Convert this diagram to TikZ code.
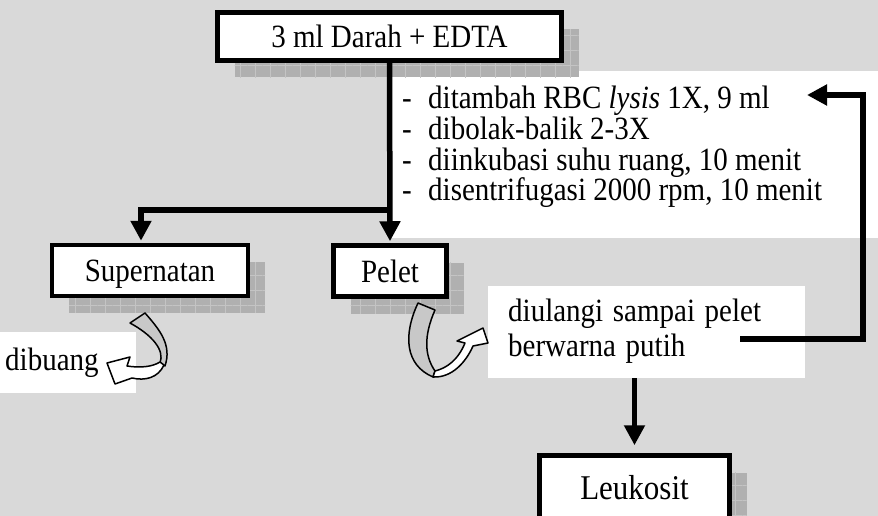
\documentclass[tikz,border=0pt]{standalone}
\usepackage{fontspec}
\usepackage{graphicx}
\setmainfont{Liberation Serif}
\usetikzlibrary{arrows.meta,shadows,patterns.meta,positioning}
\definecolor{bggray}{RGB}{217,217,217}
\definecolor{ribbongray}{RGB}{200,200,200}
\definecolor{shadegray}{RGB}{176,176,176}
\definecolor{gridgray}{RGB}{196,196,196}
\newcommand\tallText[1]{\scalebox{1}[1.12]{#1}}

\tikzset{
  box/.style={draw, line width=4.5pt, fill=white, inner sep=0pt,
    text height=22pt, text depth=0pt,
    font=\fontsize{29}{35}\selectfont,
    drop shadow={shadow xshift=17pt, shadow yshift=-17pt, opacity=1, fill=shadegray,
      postaction={pattern={Hatch[angle=0,distance=15pt,line width=1pt]}, pattern color=gridgray}}},
  textbox/.style={fill=white, inner ysep=0pt, align=left,
    font=\fontsize{29}{31.25}\selectfont},
  flow/.style={line width=5.5pt, -{Triangle[length=20pt,width=20pt]}, shorten >=2pt},
  ribbon/.style={draw, line width=1.5pt, line join=round}
}

\begin{document}
\begin{tikzpicture}[x=1pt,y=-1pt]
\useasboundingbox (0,0) rectangle (878,516);
\clip (0,0) rectangle (878,516);
\fill[bggray] (0,0) rectangle (878,516);
% white field behind the steps
\fill[white] (390,71) rectangle (878,238);

\node[box, minimum width=344pt, minimum height=48pt] (main) at (389.5,36.5) {\tallText{3 ml Darah + EDTA}};
\node[anchor=north west, inner sep=0pt, font=\fontsize{29}{24.1}\selectfont] (steps) at (402,86)
  {\tallText{\begin{tabular}{@{}p{26pt}@{}l@{}}
   - & ditambah RBC \textit{lysis} 1X, 9 ml\\
   - & dibolak-balik 2-3X\\
   - & diinkubasi suhu ruang, 10 menit\\
   - & disentrifugasi 2000 rpm, 10 menit
   \end{tabular}}};

\node[box, minimum width=196pt, minimum height=51pt] (super) at (150,270.5) {\tallText{Supernatan}};
\node[box, minimum width=113pt, minimum height=51pt] (pelet) at (390,271) {\tallText{Pelet}};
\node[textbox, anchor=north west, minimum width=136pt, minimum height=61pt,
  text width=126pt, inner xsep=5pt] (waste) at (0,332) {\tallText{dibuang}};
\node[textbox, anchor=north west, minimum width=317pt, minimum height=92pt,
  text width=277pt, inner xsep=20pt] (repeat) at (488,286)
  {\tallText{\begin{tabular}{@{}l@{}}diulangi sampai pelet\\berwarna putih\end{tabular}}};
\node[box, minimum width=190pt, minimum height=65pt, font=\fontsize{31}{35}\selectfont] (leuk) at (634.5,488) {\tallText{Leukosit}};

\coordinate (split) at (390,210);
\coordinate (loopstart) at (740,339);
\coordinate (loopcorner) at (863,95);
\coordinate (looptip) at (805,95);

\draw[flow] (main.south) -- (pelet.north);
\draw[flow] (split) -| ([xshift=-9pt]super.north);
\draw[flow, shorten >=8pt] (leuk.north |- repeat.south) -- (leuk.north);
\draw[flow] (loopstart) -| (loopcorner) -- (looptip);

% curled arrows
\draw[ribbon, fill=ribbongray] (130,323) .. controls (152,335) and (165,350) .. (160,363)
  -- (165,366) .. controls (172,345) and (160,330) .. (145,313) -- cycle;
\draw[ribbon, fill=white] (164,365) .. controls (158,378) and (145,381) .. (132,378)
  -- (115,384) -- (107,363) -- (130,357) -- (127,366)
  .. controls (140,368) and (152,367) .. (160,362) -- cycle;
\draw[ribbon, fill=ribbongray] (418,303) .. controls (403,335) and (405,365) .. (433,377)
  -- (435,371) .. controls (424,355) and (424,335) .. (435,310) -- cycle;
\draw[ribbon, fill=white] (433,377) .. controls (452,378) and (466,362) .. (473,346)
  -- (488,343) -- (483,328) -- (457,341) -- (465,343)
  .. controls (458,360) and (447,368) .. (435,371) -- cycle;
\end{tikzpicture}
\end{document}
